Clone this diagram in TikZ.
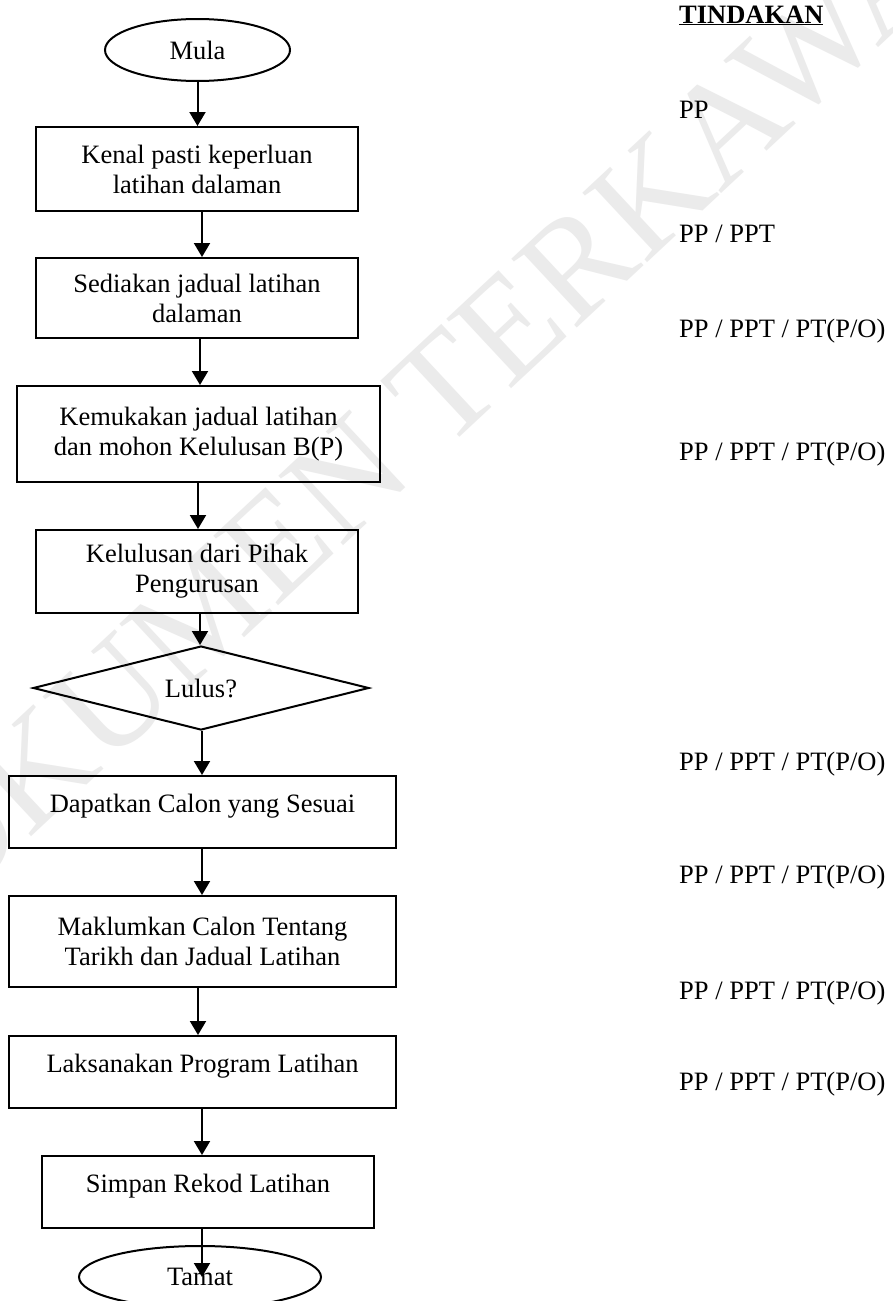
\documentclass[tikz,border=0pt]{standalone}
\usepackage{fontspec}
\setmainfont{Liberation Serif}
\usetikzlibrary{arrows.meta,shapes.geometric}
\tikzset{
  base/.style={draw=black, line width=2pt, inner sep=0pt, align=center,
    font=\fontsize{26.5}{30}\selectfont},
  stepbox/.style={base, rectangle},
  oneline/.style={text height=0pt, text depth=0pt},
  term/.style={base, ellipse},
  decide/.style={base, diamond, aspect=4},
  arr/.style={line width=2pt, -{Triangle[width=16pt,length=14pt]}},
  act/.style={anchor=base west, inner sep=0pt, font=\fontsize{26.5}{30}\selectfont},
  wm/.style={text=black!8, inner sep=0pt, font=\fontsize{145}{150}\selectfont}
}
\begin{document}
\begin{tikzpicture}[x=1pt,y=-1pt]
\useasboundingbox (0,0) rectangle (892,1301);
\clip (0,0) rectangle (892,1301);
\fill[white] (0,0) rectangle (892,1301);
% watermark
\node[wm, rotate=43] (wmark) at (415,415) {DOKUMEN TERKAWAL};
% flow
\node[term, minimum width=185pt, minimum height=62pt] (mula) at (197.5,50) {Mula};
\node[stepbox, minimum width=322pt, minimum height=84pt] (b1) at (197,169) {Kenal pasti keperluan\\latihan dalaman};
\node[stepbox, minimum width=322pt, minimum height=80pt] (b2) at (197,298) {Sediakan jadual latihan\\dalaman};
\node[stepbox, minimum width=363pt, minimum height=96pt] (b3) at (198.5,434) {Kemukakan jadual latihan\\dan mohon Kelulusan B(P)};
\node[stepbox, minimum width=322pt, minimum height=83pt] (b4) at (197,571.5) {Kelulusan dari Pihak\\Pengurusan};
\node[decide, minimum width=336pt, minimum height=84pt] (d1) at (201,688) {Lulus?};
\node[stepbox, oneline, minimum width=387pt, minimum height=72pt] (b5) at (202.5,812) {Dapatkan Calon yang Sesuai};
\node[stepbox, minimum width=387pt, minimum height=91pt] (b6) at (202.5,941.5) {Maklumkan Calon Tentang\\Tarikh dan Jadual Latihan};
\node[stepbox, oneline, minimum width=387pt, minimum height=72pt] (b7) at (202.5,1072) {Laksanakan Program Latihan};
\node[stepbox, oneline, minimum width=332pt, minimum height=72pt] (b8) at (208,1192) {Simpan Rekod Latihan};
\node[term, minimum width=242pt, minimum height=62pt] (tamat) at (200,1277) {Tamat};
% connectors
\draw[arr] (mula.south) -- (mula.south |- b1.north);
\draw[arr] ([xshift=5pt]b1.south) -- ([xshift=5pt]b1.south |- b2.north);
\draw[arr] ([xshift=3pt]b2.south) -- ([xshift=3pt]b2.south |- b3.north);
\draw[arr] ([xshift=-0.5pt]b3.south) -- ([xshift=-0.5pt]b3.south |- b4.north);
\draw[arr] ([xshift=3pt]b4.south) -- ([xshift=3pt]b4.south |- d1.north);
\draw[arr] ([xshift=1pt]d1.south) -- ([xshift=1pt]d1.south |- b5.north);
\draw[arr] ([xshift=-0.5pt]b5.south) -- ([xshift=-0.5pt]b5.south |- b6.north);
\draw[arr] ([xshift=-4.5pt]b6.south) -- ([xshift=-4.5pt]b6.south |- b7.north);
\draw[arr] ([xshift=-0.5pt]b7.south) -- ([xshift=-0.5pt]b7.south |- b8.north);
\draw[arr] ([xshift=-6pt]b8.south) -- ([xshift=-6pt]b8.south |- tamat.center);
% actions column
\node[act] (h) at (679,23) {\underline{\textbf{TINDAKAN}}};
\node[act] (a1) at (679,118) {PP};
\node[act] (a2) at (679,242) {PP / PPT};
\node[act] (a3) at (679,337) {PP / PPT / PT(P/O)};
\node[act] (a4) at (679,460) {PP / PPT / PT(P/O)};
\node[act] (a5) at (679,770) {PP / PPT / PT(P/O)};
\node[act] (a6) at (679,883) {PP / PPT / PT(P/O)};
\node[act] (a7) at (679,999) {PP / PPT / PT(P/O)};
\node[act] (a8) at (679,1090) {PP / PPT / PT(P/O)};
\end{tikzpicture}
\end{document}
